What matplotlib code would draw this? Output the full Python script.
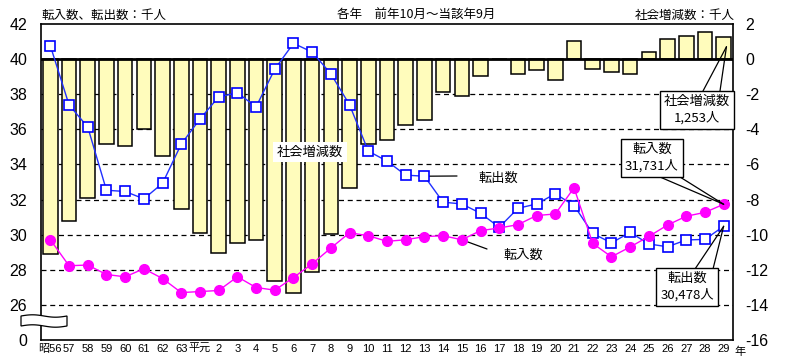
import matplotlib
matplotlib.use("Agg")
import matplotlib.pyplot as plt
from matplotlib.patches import Polygon
import numpy as np

plt.rcParams['font.family'] = ['Noto Sans CJK JP', 'DejaVu Sans']

years = ["昭56", "57", "58", "59", "60", "61", "62", "63", "平元",
         "2", "3", "4", "5", "6", "7", "8", "9", "10", "11", "12", "13",
         "14", "15", "16", "17", "18", "19", "20", "21", "22", "23", "24",
         "25", "26", "27", "28", "29"]

social_change = [-11.1, -9.24, -7.9, -4.82, -4.93, -3.98, -5.5, -8.53, -9.9,
                 -11.05, -10.5, -10.3, -12.63, -13.3, -12.1, -9.96, -7.33,
                 -4.82, -4.59, -3.73, -3.49, -1.9, -2.08, -0.97, 0.0, -0.86,
                 -0.63, -1.2, 1.03, -0.57, -0.76, -0.82, 0.38, 1.12, 1.3,
                 1.52, 1.253]

move_out = [40.76, 37.39, 36.13, 32.53, 32.46, 32.04, 32.93, 35.16, 36.59,
            37.85, 38.08, 37.28, 39.43, 40.9, 40.4, 39.16, 37.39, 34.76,
            34.19, 33.39, 33.33, 31.85, 31.75, 31.22, 30.42, 31.5, 31.75,
            32.33, 31.66, 30.07, 29.53, 30.13, 29.47, 29.31, 29.7, 29.73,
            30.478]

move_in = [29.71, 28.23, 28.27, 27.73, 27.6, 28.06, 27.5, 26.7, 26.76,
           26.82, 27.6, 26.99, 26.84, 27.56, 28.34, 29.24, 30.11, 29.94,
           29.62, 29.71, 29.89, 29.94, 29.71, 30.23, 30.38, 30.57, 31.09,
           31.18, 32.67, 29.5, 28.74, 29.3, 29.9, 30.55, 31.05, 31.27,
           31.731]

left_ticks = [24, 26, 28, 30, 32, 34, 36, 38, 40, 42]
left_labels = ["0", "26", "28", "30", "32", "34", "36", "38", "40", "42"]
right_ticks = [2, 0, -2, -4, -6, -8, -10, -12, -14, -16]

NUMFONT = ['Liberation Sans', 'Noto Sans CJK JP']

W, H = 799, 361
fig = plt.figure(figsize=(W / 100, H / 100), dpi=100)
L, R, T, B = 41, 733, 24, 340
ax = fig.add_axes([L / W, 1 - B / H, (R - L) / W, (B - T) / H])
ax2 = ax.twinx()
x = np.arange(len(years))

# bars (social change, right scale)
ax.set_xlim(-0.5, len(years) - 0.5)
ax.set_ylim(-16, 2)
for g in range(-14, 0, 2):
    ax.axhline(g, color='black', lw=0.9, ls=(0, (4, 3)), zorder=0)
ax.bar(x, social_change, width=0.78, color='#FFFCBC', edgecolor='black',
       linewidth=1.1, zorder=2)
ax.axhline(0, color='black', lw=2.0, zorder=3)
ax.yaxis.tick_right()
ax.set_yticks(right_ticks)
ax.set_yticklabels([str(t) for t in right_ticks], fontsize=11.5, family=NUMFONT)
ax.tick_params(axis='y', length=0, pad=9, left=False, labelleft=False,
               right=False, labelright=True)
ax.set_xticks(x)
ax.set_xticklabels(years, fontsize=8, family=NUMFONT)
ax.tick_params(axis='x', length=0, pad=3)
for s in ax.spines.values():
    s.set_linewidth(1.2)

# lines (left scale)
ax2.set_ylim(24, 42)
ax2.yaxis.tick_left()
ax2.set_yticks(left_ticks)
ax2.set_yticklabels(left_labels, fontsize=11.5, family=NUMFONT)
ax2.tick_params(axis='y', length=0, pad=10, left=False, labelleft=True,
                right=False, labelright=False)
ax2.plot(x, move_out, color='#2030FF', lw=1.0, marker='s', ms=6.5,
         mfc='white', mec='#0000FF', mew=1.2, zorder=4)
ax2.plot(x, move_in, color='#FF00FF', lw=1.0, marker='o', ms=7,
         mfc='#FF00FF', mec='#FF00FF', zorder=5)
for s in ax2.spines.values():
    s.set_visible(False)


def fx(px):
    return (px - L) / (R - L)


def fy(py):
    return (B - py) / (B - T)


# plain labels
ax2.text(fx(310), fy(152), "社会増減数", transform=ax2.transAxes, fontsize=9.5,
         ha='center', va='center', zorder=6,
         bbox=dict(boxstyle='square,pad=0.3', fc='white', ec='none'))
ax2.annotate("", xy=(20, move_out[20]), xytext=(fx(457), fy(176)),
             textcoords='axes fraction',
             arrowprops=dict(arrowstyle='-', lw=0.9, color='black',
                             shrinkA=0, shrinkB=0))
ax2.text(fx(498), fy(178), "転出数", transform=ax2.transAxes, fontsize=9.5,
         ha='center', va='center', zorder=6)
ax2.annotate("", xy=(22, move_in[22]), xytext=(fx(487), fy(249)),
             textcoords='axes fraction',
             arrowprops=dict(arrowstyle='-', lw=0.9, color='black',
                             shrinkA=0, shrinkB=0))
ax2.text(fx(523), fy(255), "転入数", transform=ax2.transAxes, fontsize=9.5,
         ha='center', va='center', zorder=6)


# callout boxes
def callout(cx, cy, text, pts, target, size=9.5):
    for (px, py) in pts:
        ax2.annotate("", xy=target, xytext=(fx(px), fy(py)),
                     textcoords='axes fraction',
                     arrowprops=dict(arrowstyle='-', lw=0.9, color='black',
                                     shrinkA=0, shrinkB=0), zorder=6)
    ax2.text(fx(cx), fy(cy), text, transform=ax2.transAxes, fontsize=size,
             ha='center', va='center', zorder=7, linespacing=1.3,
             bbox=dict(boxstyle='square,pad=0.3', fc='white', ec='black', lw=1))


last = len(years) - 1
callout(697, 110, "社会増減数\n%s人" % f"{int(round(social_change[last]*1000)):,}",
        [(703, 91), (720, 91)], (last + 0.15, social_change[last] - 0.55 + 40))
callout(652, 158, "転入数\n%s人" % f"{int(round(move_in[last]*1000)):,}",
        [(660, 177), (680, 177)], (last, move_in[last]))
callout(687, 287, "転出数\n%s人" % f"{int(round(move_out[last]*1000)):,}",
        [(695, 269), (713, 269)], (last, move_out[last]))

# header texts
fig.text(41 / W, 1 - 15 / H, "転入数、転出数：千人", fontsize=9, ha='left', va='center')
fig.text(416 / W, 1 - 15 / H, "各年　前年10月～当該年9月", fontsize=9, ha='center', va='center')
fig.text(735 / W, 1 - 15 / H, "社会増減数：千人", fontsize=9, ha='right', va='center')
fig.text(734 / W, 1 - 352 / H, "年", fontsize=8, ha='left', va='center')

# axis break symbol
xs = np.linspace(21, 67, 40)
wave = 1.2 * np.sin((xs - 21) / 46 * 2 * np.pi)
top = [(xx / W, 1 - (316 - w) / H) for xx, w in zip(xs, wave)]
bot = [(xx / W, 1 - (326 - w) / H) for xx, w in zip(xs[::-1], wave[::-1])]
brk = Polygon(top + bot, closed=True, fc='white', ec='black', lw=0.9,
              transform=fig.transFigure, zorder=10)
fig.add_artist(brk)

fig.savefig("out.png", dpi=100)
